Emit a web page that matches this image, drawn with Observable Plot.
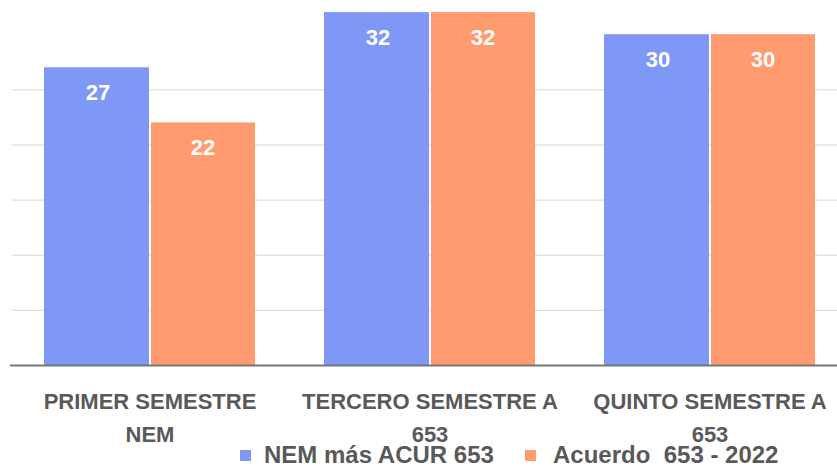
<!DOCTYPE html>
<html>
<head>
<meta charset="utf-8">
<script src="https://cdn.jsdelivr.net/npm/d3@7"></script>
<script src="https://cdn.jsdelivr.net/npm/@observablehq/plot@0.6"></script>
<style>
  html, body { margin: 0; padding: 0; background: #fff; }
  #wrap { position: relative; width: 837px; height: 470px; overflow: hidden; font-family: "Liberation Sans", Arial, sans-serif; }
  #chart svg { max-width: none !important; }
  #legend { position: absolute; left: 0; top: 442px; width: 837px; height: 26px; font-weight: bold; font-size: 24px; color: #595959; }
  .item { position: absolute; top: 0; display: flex; align-items: center; height: 26px; white-space: pre; }
  .sw { width: 11px; height: 11px; }
</style>
</head>
<body>
<div id="wrap"><div id="chart"></div><div id="legend"></div></div>
<script>
const categories = ["PRIMER SEMESTRE NEM", "TERCERO SEMESTRE A 653", "QUINTO SEMESTRE A 653"];
const tickLabels = ["PRIMER SEMESTRE\nNEM", "TERCERO SEMESTRE A\n653", "QUINTO SEMESTRE A\n653"];
const seriesNames = ["NEM más ACUR 653", "Acuerdo  653 - 2022"];
const nemValues = [27, 32, 30];
const acuerdoValues = [22, 32, 30];
const gridTicks = [5, 10, 15, 20, 25];
const colors = ["#7f97f5", "#ff9b6e"];

const nem = categories.map((c, i) => ({cat: c, value: nemValues[i]}));
const acu = categories.map((c, i) => ({cat: c, value: acuerdoValues[i]}));
const labelMap = new Map(categories.map((c, i) => [c, tickLabels[i]]));

const chart = Plot.plot({
  width: 850,
  height: 470,
  marginLeft: 10,
  marginRight: 0,
  marginTop: 0,
  marginBottom: 105,
  style: {fontFamily: "Liberation Sans, Arial, sans-serif", background: "transparent", overflow: "visible", maxWidth: "none"},
  x: {domain: categories, paddingInner: 0.246, paddingOuter: 0.123, axis: null},
  y: {domain: [0, 33.1], axis: null},
  marks: [
    Plot.ruleY(gridTicks, {stroke: "#d9d9d9", strokeWidth: 1, insetLeft: 2}),
    Plot.barY(nem, {x: "cat", y: "value", fill: colors[0], insetRight: 106}),
    Plot.barY(acu, {x: "cat", y: "value", fill: colors[1], insetLeft: 107}),
    Plot.ruleY([0], {stroke: "#767676", strokeWidth: 2}),
    Plot.text(nem, {x: "cat", y: "value", text: d => String(d.value), dx: -52, dy: 25, fill: "white", fontWeight: "bold", fontSize: 22}),
    Plot.text(acu, {x: "cat", y: "value", text: d => String(d.value), dx: 53, dy: 25, fill: "white", fontWeight: "bold", fontSize: 22}),
    Plot.text(categories, {x: d => d, text: d => labelMap.get(d), frameAnchor: "bottom", lineAnchor: "top", dy: 20, lineHeight: 1.5, fill: "#595959", fontWeight: "bold", fontSize: 22})
  ]
});
document.getElementById("chart").appendChild(chart);

const legend = document.getElementById("legend");
const lefts = [240, 525];
const gaps = [13, 17];
seriesNames.forEach((s, i) => {
  const it = document.createElement("div");
  it.className = "item";
  it.style.left = lefts[i] + "px";
  const sw = document.createElement("span");
  sw.className = "sw";
  sw.style.background = colors[i];
  sw.style.marginRight = gaps[i] + "px";
  const t = document.createElement("span");
  t.textContent = s;
  it.appendChild(sw); it.appendChild(t);
  legend.appendChild(it);
});
</script>
</body>
</html>
